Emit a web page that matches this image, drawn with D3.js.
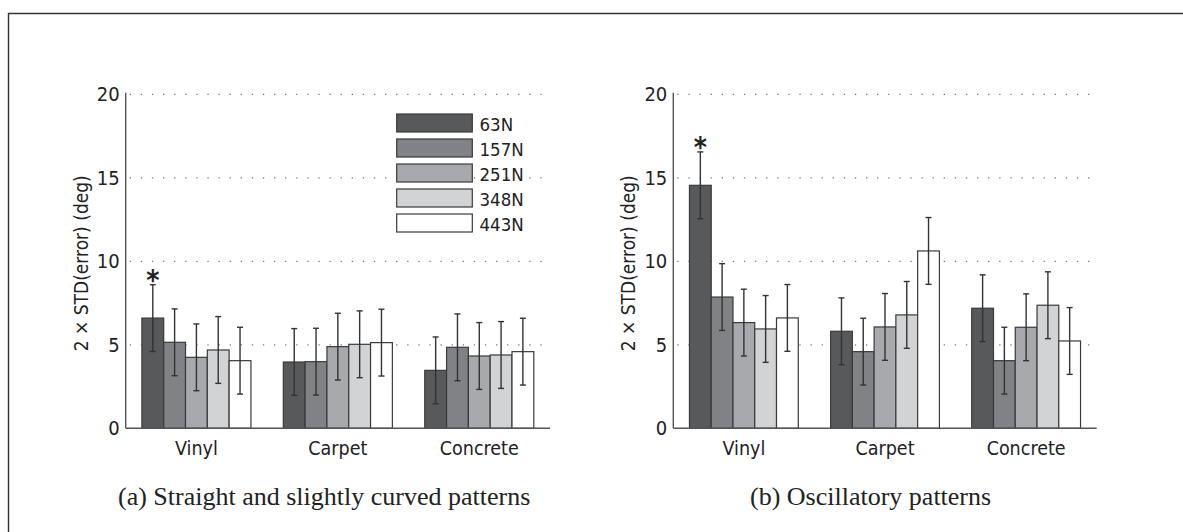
<!DOCTYPE html>
<html>
<head>
<meta charset="utf-8">
<script src="https://cdn.jsdelivr.net/npm/d3@7/dist/d3.min.js"></script>
<style>
  html, body { margin: 0; padding: 0; background: #fff; }
  svg { display: block; }
  .sans { font-family: "DejaVu Sans Condensed", "DejaVu Sans", sans-serif; fill: #222; }
  .serif { font-family: "Liberation Serif", "Times New Roman", serif; fill: #222; }
</style>
</head>
<body>
<svg id="chart" width="1183" height="532"></svg>
<script>
// ---- data ----
const categories = ["Vinyl", "Carpet", "Concrete"];
const forces = ["63N", "157N", "251N", "348N", "443N"];
const yTicks = [0, 5, 10, 15, 20];

// (a) Straight and slightly curved patterns: mean per force, per category
const straight63 = [6.6, 3.97, 3.47];
const straight157 = [5.15, 3.99, 4.85];
const straight251 = [4.25, 4.89, 4.33];
const straight348 = [4.69, 5.03, 4.39];
const straight443 = [4.05, 5.13, 4.59];
// error half-widths per force
const straightErr = [2.0, 2.0, 2.0, 2.0, 2.0];

// (b) Oscillatory patterns
const osc63 = [14.55, 5.81, 7.19];
const osc157 = [7.86, 4.59, 4.05];
const osc251 = [6.33, 6.07, 6.05];
const osc348 = [5.95, 6.79, 7.37];
const osc443 = [6.61, 10.62, 5.23];
const oscErr = [2.0, 2.0, 2.0, 2.0, 2.0];

const fills = ["#58595b", "#808285", "#a7a9ac", "#d1d3d4", "#ffffff"];
const yLabel = "2 × STD(error) (deg)";
const captions = ["(a) Straight and slightly curved patterns", "(b) Oscillatory patterns"];

// ---- drawing ----
const svg = d3.select("#chart");

// outer frame
svg.append("path")
  .attr("d", "M8.5,540 L8.5,13.5 L1190,13.5")
  .attr("fill", "none").attr("stroke", "#333").attr("stroke-width", 1.4);

function drawPanel(opts) {
  const { x0, x1, series, err, star, legend, caption, capX } = opts;
  const yTop = 94.3, yBot = 428.3;
  const g = svg.append("g");
  const y = d3.scaleLinear().domain([0, 20]).range([yBot, yTop]);
  const x = d3.scaleBand().domain(categories).range([x0, x1])
    .paddingInner(0.229).paddingOuter(0.1145);
  const xs = d3.scaleBand().domain(forces).range([0, x.bandwidth()]).padding(0);

  // grid (dotted)
  g.append("g").selectAll("line").data(yTicks.filter(t => t > 0)).join("line")
    .attr("x1", x0 + 4).attr("x2", x1)
    .attr("y1", d => y(d)).attr("y2", d => y(d))
    .attr("stroke", "#777").attr("stroke-width", 1.3)
    .attr("stroke-dasharray", "1.3,9.8");

  // bars
  forces.forEach((f, i) => {
    const vals = series[i];
    g.append("g").selectAll("rect").data(categories).join("rect")
      .attr("x", c => x(c) + xs(f))
      .attr("y", (c, j) => y(vals[j]))
      .attr("width", xs.bandwidth())
      .attr("height", (c, j) => y(0) - y(vals[j]))
      .attr("fill", fills[i])
      .attr("stroke", "#3a3a3a").attr("stroke-width", 1.2);
  });
  // error bars
  forces.forEach((f, i) => {
    const vals = series[i];
    const ge = g.append("g").attr("stroke", "#333").attr("stroke-width", 1.4);
    categories.forEach((c, j) => {
      const cx = x(c) + xs(f) + xs.bandwidth() / 2;
      const hi = y(vals[j] + err[i]), lo = y(vals[j] - err[i]);
      ge.append("line").attr("x1", cx).attr("x2", cx).attr("y1", hi).attr("y2", lo);
      ge.append("line").attr("x1", cx - 3).attr("x2", cx + 3).attr("y1", hi).attr("y2", hi);
      ge.append("line").attr("x1", cx - 3).attr("x2", cx + 3).attr("y1", lo).attr("y2", lo);
    });
  });
  // asterisk
  if (star) {
    const [si, sc] = star;
    const j = categories.indexOf(sc);
    const cx = x(sc) + xs(forces[si]) + xs.bandwidth() / 2;
    g.append("text").attr("class", "sans")
      .attr("x", cx).attr("y", y(series[si][j] + err[si]) + 5)
      .attr("text-anchor", "middle").attr("font-size", 28).attr("font-weight", "bold").text("*");
  }

  // axes
  const yAxis = d3.axisLeft(y).tickValues(yTicks).tickSize(0).tickPadding(6);
  const ya = g.append("g").attr("transform", `translate(${x0},0)`).call(yAxis);
  ya.select(".domain").attr("stroke", "#555").attr("stroke-width", 1.4)
    .attr("d", `M0,${yTop - 1.5}V${yBot}`);
  ya.selectAll("text").attr("class", "sans").attr("font-size", 20).attr("fill", "#1e1e1e");

  const xAxis = d3.axisBottom(x).tickSize(0).tickPadding(12);
  const xa = g.append("g").attr("transform", `translate(0,${yBot})`).call(xAxis);
  xa.select(".domain").attr("stroke", "#555").attr("stroke-width", 1.4)
    .attr("d", `M${x0},0H${x1}`);
  xa.selectAll("text").attr("class", "sans").attr("font-size", 19.5).attr("fill", "#1e1e1e")
    .attr("dy", "0.71em").attr("y", 12.5);

  // y label
  g.append("text").attr("class", "sans")
    .attr("transform", `translate(${x0 - 38},${(yTop + yBot) / 2 + 2}) rotate(-90)`)
    .attr("text-anchor", "middle").attr("font-size", 19).text(yLabel);

  // legend
  if (legend) {
    const lg = g.append("g");
    forces.forEach((f, i) => {
      lg.append("rect").attr("x", 396.7).attr("y", 114 + 25 * i)
        .attr("width", 75.6).attr("height", 18)
        .attr("fill", fills[i]).attr("stroke", "#3a3a3a").attr("stroke-width", 1.2);
      lg.append("text").attr("class", "sans")
        .attr("x", 479.5).attr("y", 114 + 25 * i + 16.5)
        .attr("font-size", 18.5).text(f);
    });
  }

  // caption
  svg.append("text").attr("class", "serif")
    .attr("x", capX).attr("y", 505)
    .attr("font-size", 26).text(caption);
}

drawPanel({
  x0: 125.7, x1: 550,
  series: [straight63, straight157, straight251, straight348, straight443],
  err: straightErr,
  star: [0, "Vinyl"], legend: true, caption: captions[0], capX: 118
});
drawPanel({
  x0: 673.3, x1: 1096.7,
  series: [osc63, osc157, osc251, osc348, osc443],
  err: oscErr,
  star: [0, "Vinyl"], legend: false, caption: captions[1], capX: 750
});
</script>
</body>
</html>
